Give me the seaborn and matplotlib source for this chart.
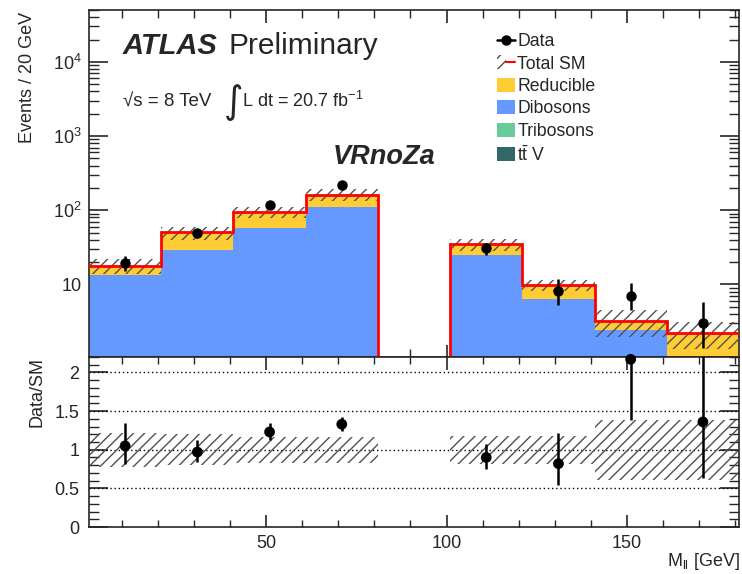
import numpy as np
import pandas as pd
import seaborn as sns
import matplotlib
matplotlib.use("Agg")
import matplotlib.pyplot as plt
from matplotlib.patches import Patch
from matplotlib.lines import Line2D
from matplotlib.legend_handler import HandlerTuple
from matplotlib.ticker import MultipleLocator, LogLocator, NullFormatter, FuncFormatter, FixedLocator

# ---------------- data ----------------
bin_edges = [1, 21, 41, 61, 81, 101, 121, 141, 161, 181]
bin_centers = [11, 31, 51, 71, 91, 111, 131, 151, 171]
process_names = ["Reducible", "Dibosons", "Tribosons", "ttV"]
reducible = [4.4, 20.9, 37.7, 51.5, 0.0, 9.5, 3.4, 0.8, 1.6]
dibosons = [13.3, 29.0, 56.8, 110.7, 0.0, 24.8, 6.3, 2.35, 0.6]
tribosons = [0.05, 0.12, 0.2, 0.25, 0.0, 0.12, 0.05, 0.03, 0.02]
ttv = [0.05, 0.08, 0.1, 0.15, 0.0, 0.08, 0.05, 0.02, 0.01]
sm_total = [17.8, 50.1, 94.8, 162.6, 0.0, 34.5, 9.8, 3.2, 2.23]
sm_rel_unc = [0.22, 0.20, 0.17, 0.17, 0.0, 0.18, 0.18, 0.39, 0.39]

data_x = [11, 31, 51, 71, 111, 131, 151, 171]
data_y = [19.2, 49.6, 116.0, 222.0, 30.5, 8.1, 7.0, 3.0]
data_err_lo = [4.1, 7.0, 10.8, 14.9, 5.5, 2.8, 2.5, 1.6]
data_err_hi = [5.1, 7.0, 10.8, 14.9, 5.5, 3.6, 3.6, 2.8]

ratio_y = [1.05, 0.97, 1.23, 1.33, 0.90, 0.82, 2.17, 1.36]
ratio_err_lo = [0.24, 0.13, 0.11, 0.09, 0.155, 0.28, 0.79, 0.73]
ratio_err_hi = [0.30, 0.16, 0.12, 0.10, 0.17, 0.40, 0.80, 1.20]

colors = {"Reducible": "#FFCC33", "Dibosons": "#6699FF",
          "Tribosons": "#66CC99", "ttV": "#336666"}

# ---------------- style ----------------
sns.set_theme(style="ticks")
plt.rcParams["font.family"] = ["Liberation Sans", "DejaVu Sans"]
plt.rcParams["mathtext.fontset"] = "custom"
plt.rcParams["mathtext.rm"] = "Liberation Sans"
plt.rcParams["mathtext.it"] = "Liberation Sans:italic"
plt.rcParams["mathtext.bf"] = "Liberation Sans:bold"
plt.rcParams["hatch.linewidth"] = 1.0
plt.rcParams["axes.linewidth"] = 1.2

W, H = 742, 574
fig = plt.figure(figsize=(W / 100, H / 100), dpi=100)
L, R = 89, 739
ax1 = fig.add_axes([L / W, 1 - 357 / H, (R - L) / W, (357 - 10) / H])
ax2 = fig.add_axes([L / W, 1 - 527 / H, (R - L) / W, (527 - 357) / H])

HATCH = "///"
HCOL = "#505050"

# ---------------- top panel ----------------
rows = []
for name, vals in zip(process_names, [reducible, dibosons, tribosons, ttv]):
    for c, v in zip(bin_centers, vals):
        rows.append({"mll": c, "w": v, "process": name})
df = pd.DataFrame(rows)

ax1.set_yscale("log")
sns.histplot(data=df, x="mll", weights="w", hue="process", hue_order=process_names,
             palette=colors, multiple="stack", bins=bin_edges, element="step",
             fill=True, alpha=1.0, linewidth=0, legend=False, ax=ax1)

tot = np.array(sm_total)
unc = np.array(sm_rel_unc)
ax1.stairs(tot * (1 + unc), bin_edges, baseline=tot * (1 - unc), fill=True,
           hatch=HATCH, facecolor="none", edgecolor=HCOL, linewidth=0, zorder=3)
ax1.stairs(tot, bin_edges, baseline=None, color="#FF0000", linewidth=2.0, zorder=4)
ax1.errorbar(data_x, data_y, yerr=[data_err_lo, data_err_hi], fmt="o", color="black",
             ms=6.5, elinewidth=1.8, capsize=0, zorder=5)

ax1.set_xlim(1, 181)
ax1.set_ylim(1.05, 5e4)
ax1.set_xlabel("")
ax1.set_ylabel("")
ax1.xaxis.set_major_locator(MultipleLocator(50))
ax1.xaxis.set_minor_locator(MultipleLocator(10))
ax1.xaxis.set_major_formatter(NullFormatter())
ax1.yaxis.set_major_locator(LogLocator(base=10))
ax1.yaxis.set_minor_locator(LogLocator(base=10, subs=np.arange(2, 10)))
ax1.yaxis.set_minor_formatter(NullFormatter())


def logfmt(v, pos):
    n = int(round(np.log10(v)))
    if n == 1:
        return "10"
    return r"$\mathregular{10^{%d}}$" % n


ax1.yaxis.set_major_formatter(FuncFormatter(logfmt))
ax1.tick_params(which="both", direction="in", top=True, right=True, labelsize=13)
ax1.tick_params(axis="y", which="major", length=14, width=1.2, pad=5)
ax1.tick_params(axis="y", which="minor", length=7, width=1.0)
ax1.tick_params(axis="x", which="major", length=9, width=1.2)
ax1.tick_params(axis="x", which="minor", length=6, width=1.0)

# legend
h_data = Line2D([], [], color="black", marker="o", ms=6.5, lw=1.8)
h_tot = (Patch(facecolor="none", edgecolor=HCOL, hatch=HATCH, lw=0),
         Line2D([], [], color="red", lw=1.5))
handles = [h_data, h_tot] + [Patch(facecolor=colors[n], edgecolor="none") for n in process_names]
labels = ["Data", "Total SM", "Reducible", "Dibosons", "Tribosons", r"$\mathregular{t\bar{t}}$ V"]
fig.legend(handles, labels, loc="upper left", bbox_to_anchor=(497 / W, 1 - 33 / H),
           frameon=False, fontsize=12.7, handlelength=1.0, handleheight=0.85,
           handletextpad=0.15, labelspacing=0.3, borderpad=0, borderaxespad=0,
           handler_map={tuple: HandlerTuple(ndivide=None, pad=0)})

# annotations
fig.text(123 / W, 1 - 54 / H, "ATLAS", fontsize=21, fontweight="bold", fontstyle="italic",
         ha="left", va="baseline")
fig.text(228 / W, 1 - 54 / H, "Preliminary", fontsize=21.5, ha="left", va="baseline")
fig.text(123 / W, 1 - 107 / H, "√s = 8 TeV", fontsize=13.5, ha="left", va="baseline")
fig.text(224 / W, 1 - 113 / H, "∫", fontsize=27, ha="left", va="baseline", family="DejaVu Sans")
fig.text(242 / W, 1 - 107 / H, r"L dt = 20.7 fb$^{\mathregular{-1}}$", fontsize=13,
         ha="left", va="baseline")
fig.text(333 / W, 1 - 164 / H, "VRnoZa", fontsize=19.5, fontweight="bold", fontstyle="italic",
         ha="left", va="baseline")
fig.text(27 / W, 1 - 12 / H, "Events / 20 GeV", fontsize=13, rotation=90, ha="center", va="top")

# ---------------- ratio panel ----------------
ax2.stairs(1 + unc, bin_edges, baseline=1 - unc, fill=True, hatch=HATCH,
           facecolor="none", edgecolor=HCOL, linewidth=0, zorder=2)
for yv in [0.5, 1.0, 1.5, 2.0]:
    ax2.axhline(yv, color="black", linestyle=(0, (1, 2.0)), linewidth=1.0, zorder=1)
ax2.errorbar(data_x, ratio_y, yerr=[ratio_err_lo, ratio_err_hi], fmt="none", ecolor="black",
             elinewidth=1.8, capsize=0, zorder=5)
sns.scatterplot(x=data_x, y=ratio_y, color="black", s=60, edgecolor="none", ax=ax2,
                zorder=6, clip_on=False)
ax2.set_xlim(1, 181)
ax2.set_ylim(0, 2.2)
ax2.xaxis.set_major_locator(MultipleLocator(50))
ax2.xaxis.set_minor_locator(MultipleLocator(10))
ax2.yaxis.set_major_locator(FixedLocator([0, 0.5, 1, 1.5, 2]))
ax2.yaxis.set_minor_locator(MultipleLocator(0.1))
ax2.yaxis.set_major_formatter(FuncFormatter(lambda v, p: ("%g" % v)))
ax2.tick_params(which="both", direction="in", top=True, right=True, labelsize=13)
ax2.tick_params(axis="y", which="major", length=14, width=1.2, pad=7)
ax2.tick_params(axis="y", which="minor", length=7, width=1.0)
ax2.tick_params(axis="x", which="major", length=9, width=1.2, pad=6)
ax2.tick_params(axis="x", which="minor", length=5, width=1.0)
ax2.set_xlabel("")
ax2.set_ylabel("")
fig.text(37 / W, 1 - 357 / H, "Data/SM", fontsize=13, rotation=90, ha="center", va="top")
fig.text(740 / W, 1 - 566 / H, r"M$_{\mathregular{ll}}$ [GeV]", fontsize=13,
         ha="right", va="baseline")

fig.savefig("out.png", dpi=100)
